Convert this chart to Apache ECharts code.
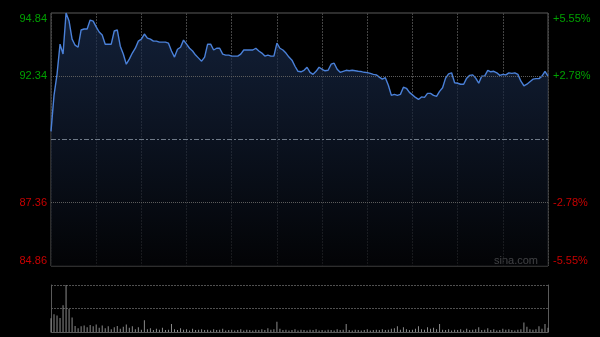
<!DOCTYPE html>
<html>
<head>
<meta charset="utf-8">
<script src="https://cdn.jsdelivr.net/npm/echarts@6/dist/echarts.min.js"></script>
<style>
html,body{margin:0;padding:0;background:#000;}
#c{width:600px;height:337px;}
</style>
</head>
<body>
<div id="c"></div>
<script>
// ---- data ----
const prevClose = 89.85;
const priceTicks = [84.86, 87.36, 92.34, 94.84];
const priceLabels = ['84.86', '87.36', '92.34', '94.84'];
const pctLabels = ['-5.55%', '-2.78%', '+2.78%', '+5.55%'];
const priceMin = 84.86;
const priceMax = 94.84;

const prices = [
  90.17, 91.59, 92.42, 93.61, 93.22, 94.84, 94.52, 93.81, 93.57, 93.49,
  94.17, 94.21, 94.21, 94.56, 94.52, 94.29, 94.09, 93.97, 93.61, 93.61,
  93.61, 94.13, 94.17, 93.53, 93.22, 92.82, 93.02, 93.26, 93.45, 93.73,
  93.81, 94.01, 93.85, 93.81, 93.73, 93.73, 93.69, 93.69, 93.69, 93.65,
  93.34, 93.10, 93.41, 93.49, 93.77, 93.61, 93.45, 93.34, 93.18, 93.06,
  92.94, 93.10, 93.61, 93.61, 93.38, 93.45, 93.45, 93.22, 93.18, 93.18,
  93.14, 93.14, 93.14, 93.22, 93.38, 93.38, 93.38, 93.38, 93.45, 93.34,
  93.26, 93.14, 93.18, 93.14, 93.14, 93.65, 93.45, 93.38, 93.26, 93.10,
  92.98, 92.74, 92.54, 92.52, 92.58, 92.70, 92.50, 92.42, 92.54, 92.70,
  92.62, 92.56, 92.58, 92.82, 92.86, 92.62, 92.50, 92.54, 92.58, 92.56,
  92.58, 92.56, 92.54, 92.53, 92.50, 92.49, 92.46, 92.42, 92.40, 92.31,
  92.23, 92.29, 91.99, 91.59, 91.63, 91.59, 91.63, 91.91, 91.87, 91.71,
  91.61, 91.51, 91.43, 91.53, 91.51, 91.67, 91.67, 91.59, 91.55, 91.75,
  91.89, 92.27, 92.44, 92.48, 92.09, 92.07, 92.03, 92.03, 92.27, 92.38,
  92.40, 92.27, 92.07, 92.35, 92.36, 92.58, 92.52, 92.54, 92.48, 92.38,
  92.42, 92.40, 92.48, 92.46, 92.48, 92.42, 92.15, 91.97, 92.03, 92.13,
  92.23, 92.25, 92.25, 92.35, 92.54, 92.35
];

const volumes = [
  29, 38, 35, 30, 57, 100, 49, 31, 13, 8,
  12, 14, 10, 15, 12, 16, 9, 14, 8, 12,
  6, 10, 13, 7, 11, 16, 9, 12, 6, 10,
  5, 25, 6, 8, 4, 7, 5, 9, 4, 5,
  17, 6, 4, 8, 5, 6, 3, 7, 4, 5,
  6, 4, 5, 3, 6, 4, 5, 7, 3, 4,
  5, 3, 4, 6, 3, 5, 4, 3, 5, 4,
  6, 4, 8, 5, 6, 22, 7, 4, 5, 3,
  4, 6, 3, 5, 4, 3, 5, 4, 6, 3,
  4, 3, 5, 4, 3, 6, 4, 5, 17, 4,
  3, 5, 4, 3, 4, 6, 3, 4, 5, 4,
  6, 4, 5, 7, 8, 12, 5, 10, 6, 4,
  5, 7, 12, 6, 5, 10, 7, 9, 6, 17,
  5, 4, 6, 3, 5, 4, 6, 3, 7, 4,
  5, 6, 10, 4, 5, 8, 4, 6, 3, 4,
  7, 5, 6, 4, 3, 5, 6, 20, 11, 6,
  5, 6, 12, 7, 17, 9
];

// time categories, 2-minute steps (HK session, lunch break merged)
const times = [];
function pad(n){ return (n < 10 ? '0' : '') + n; }
for (let m = 9*60+30; m <= 12*60; m += 2) times.push(pad(Math.floor(m/60)) + ':' + pad(m%60));
for (let m = 13*60+2; m <= 16*60; m += 2) times.push(pad(Math.floor(m/60)) + ':' + pad(m%60));

function tickIndex(v){
  let best = 0, d = Infinity;
  priceTicks.forEach((t, i) => { const dd = Math.abs(t - v); if (dd < d){ d = dd; best = i; } });
  return best;
}
function tickColor(v){ return v > prevClose ? '#00a000' : '#c80000'; }

const chart = echarts.init(document.getElementById('c'), null, {renderer: 'canvas'});
const FONT = 'Liberation Sans, Arial, sans-serif';

chart.setOption({
  backgroundColor: '#000',
  animation: false,
  grid: [
    {left: 51, right: 52, top: 13, bottom: 71, show: true, borderColor: '#5a5a5a', borderWidth: 1, backgroundColor: 'transparent'},
    {left: 51, right: 52, top: 285, bottom: 5, show: false}
  ],
  xAxis: [
    {
      type: 'category', gridIndex: 0, data: times, boundaryGap: false,
      axisLine: {show: false}, axisTick: {show: false}, axisLabel: {show: false},
      splitLine: {show: true, interval: 14, lineStyle: {color: '#444444', width: 1, type: [2, 1]}}
    },
    {
      type: 'category', gridIndex: 1, data: times, boundaryGap: false,
      axisLine: {show: true, lineStyle: {color: '#5a5a5a'}}, axisTick: {show: false}, axisLabel: {show: false},
      splitLine: {show: false}
    }
  ],
  yAxis: [
    {
      type: 'value', gridIndex: 0, min: priceMin, max: priceMax, position: 'left',
      axisLine: {show: false}, axisTick: {show: false}, splitLine: {show: false},
      axisLabel: {
        show: true, customValues: priceTicks, margin: 4,
        fontFamily: FONT, fontSize: 11,
        verticalAlignMinLabel: 'bottom', verticalAlignMaxLabel: 'top',
        color: (v) => tickColor(v),
        formatter: (v) => priceLabels[tickIndex(v)]
      }
    },
    {
      type: 'value', gridIndex: 0, min: priceMin, max: priceMax, position: 'right',
      axisLine: {show: false}, axisTick: {show: false}, splitLine: {show: false},
      axisLabel: {
        show: true, customValues: priceTicks, margin: 5,
        fontFamily: FONT, fontSize: 11,
        verticalAlignMinLabel: 'bottom', verticalAlignMaxLabel: 'top',
        color: (v) => tickColor(v),
        formatter: (v) => pctLabels[tickIndex(v)]
      }
    },
    {
      type: 'value', gridIndex: 1, min: 0, max: 100, interval: 50, position: 'left',
      axisLine: {show: true, lineStyle: {color: '#5a5a5a'}}, axisTick: {show: false}, axisLabel: {show: false},
      splitLine: {show: true, lineStyle: {color: '#505050', type: [2, 1]}}
    },
    {
      type: 'value', gridIndex: 1, min: 0, max: 100, interval: 50, position: 'right',
      axisLine: {show: true, lineStyle: {color: '#5a5a5a'}}, axisTick: {show: false}, axisLabel: {show: false},
      splitLine: {show: false}
    }
  ],
  series: [
    {
      type: 'line', xAxisIndex: 0, yAxisIndex: 0, data: prices,
      showSymbol: false, smooth: false,
      lineStyle: {color: '#4a80d8', width: 1.4},
      areaStyle: {
        color: new echarts.graphic.LinearGradient(0, 0, 0, 1, [
          {offset: 0, color: 'rgba(28,48,84,0.95)'},
          {offset: 1, color: 'rgba(4,5,8,1)'}
        ])
      },
      markLine: {
        silent: true, symbol: 'none', label: {show: false}, animation: false,
        data: [
          {yAxis: priceTicks[2], lineStyle: {color: '#5c5c5c', type: [1, 1], width: 1}},
          {yAxis: priceTicks[1], lineStyle: {color: '#5c5c5c', type: [1, 1], width: 1}},
          {yAxis: prevClose, lineStyle: {color: '#6f7a88', type: [5, 2, 2, 2], width: 1}}
        ]
      }
    },
    {
      type: 'bar', xAxisIndex: 1, yAxisIndex: 2, data: volumes,
      barWidth: 1, itemStyle: {color: '#8a8a8a'}
    }
  ],
  graphic: [
    {type: 'text', right: 62, top: 255, style: {text: 'sina.com', fill: '#c8c8c8', font: '11px ' + FONT}}
  ]
});
</script>
</body>
</html>
